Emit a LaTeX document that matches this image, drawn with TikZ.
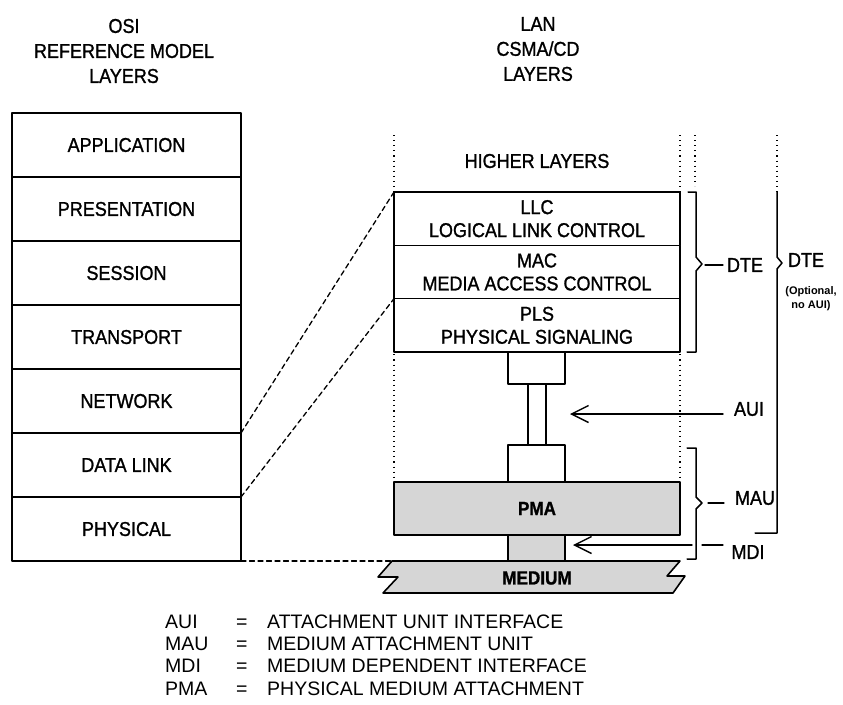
\documentclass[tikz,border=0pt]{standalone}
\usepackage{fontspec}
\setmainfont{Liberation Sans}
\newfontfamily\plotfont[FakeStretch=0.9,FakeBold=1.2]{Liberation Sans}
\usetikzlibrary{arrows.meta,positioning}

\tikzset{
  layer/.style={draw, line width=1.6pt, outer sep=0pt, inner sep=0pt,
    minimum width=229pt, minimum height=64pt,
    font=\plotfont\fontsize{20}{23}\selectfont},
  lanbox/.style={draw, fill=white, line width=1.6pt, outer sep=0pt, inner sep=0pt,
    minimum width=286pt, minimum height=53.33pt, align=center,
    font=\plotfont\fontsize{20}{23}\selectfont},
  head/.style={align=center, font=\plotfont\fontsize{20}{25}\selectfont},
  lbl/.style={font=\plotfont\fontsize{20}{23}\selectfont},
  note/.style={align=center, font=\bfseries\fontsize{11}{14}\selectfont},
  keytext/.style={anchor=base west, inner sep=0pt, font=\fontsize{19.5}{22}\selectfont},
  shade/.style={fill=black!16},
  linkline/.style={line width=1.3pt, dashed, dash pattern=on 5pt off 3.5pt},
  dotline/.style={line width=1.1pt, dash pattern=on 1.1pt off 4pt, line cap=butt},
  ptr/.style={line width=1.4pt, -{Straight Barb[length=17pt,width=17pt,line width=1.4pt]}},
}

\begin{document}
\begin{tikzpicture}[x=1pt, y=-1pt, line cap=round, line join=round]
\useasboundingbox (0,0) rectangle (843,704);

% ---------------------------------------------------------
% Column headings
% ---------------------------------------------------------
\node[head] (osihead) at (124,51) {OSI\\REFERENCE MODEL\\LAYERS};
\node[head] (lanhead) at (538,49) {LAN\\CSMA/CD\\LAYERS};

% ---------------------------------------------------------
% OSI reference model stack
% ---------------------------------------------------------
\node[layer] (app) at (126.5,145) {APPLICATION};
\node[layer, below=0pt of app]  (pres)  {PRESENTATION};
\node[layer, below=0pt of pres] (sess)  {SESSION};
\node[layer, below=0pt of sess] (trans) {TRANSPORT};
\node[layer, below=0pt of trans] (net)  {NETWORK};
\node[layer, below=0pt of net]  (data)  {DATA LINK};
\node[layer, below=0pt of data] (phys)  {PHYSICAL};

% ---------------------------------------------------------
% Dotted boundaries of the LAN column
% ---------------------------------------------------------
\draw[dotline] (394,135) -- (394,482);
\draw[dotline] (680,135) -- (680,482);
\draw[dotline] (695,135) -- (695,186);
\draw[dotline] (777,135) -- (777,192);

\node[lbl] (higher) at (537,161) {HIGHER LAYERS};

% ---------------------------------------------------------
% LAN CSMA/CD layers
% ---------------------------------------------------------
\node[lanbox] (llc) at (537,218.67) {LLC\\LOGICAL LINK CONTROL};
\node[lanbox, below=0pt of llc] (mac) {MAC\\MEDIA ACCESS CONTROL};
\node[lanbox, below=0pt of mac] (pls) {PLS\\PHYSICAL SIGNALING};

% AUI cable and connectors
\draw[line width=1.6pt, fill=white] (508,352) rectangle (565,384);
\draw[line width=1.6pt, fill=white] (528,384) rectangle (546,445);
\draw[line width=1.6pt, fill=white] (508,445) rectangle (565,482);

% PMA and MDI
\node[lanbox, shade, minimum height=53pt, font=\plotfont\bfseries\fontsize{19}{23}\selectfont]
  (pma) at (537,508.5) {PMA};
\draw[line width=1.6pt, shade] (508,535) rectangle (565,561);

% ---------------------------------------------------------
% Medium
% ---------------------------------------------------------
\coordinate (MTL) at (392,561);
\draw[line width=1.6pt, shade]
  (MTL) -- (680,561) -- (667,576) -- (685,576) -- (673,593)
  -- (383,593) -- (398,577) -- (378,577) -- cycle;
\node[font=\plotfont\bfseries\fontsize{19}{23}\selectfont] (medium) at (537,578) {MEDIUM};

% ---------------------------------------------------------
% Dashed mapping lines
% ---------------------------------------------------------
\draw[linkline] (data.north east) -- (llc.north west);
\draw[linkline] (data.south east) -- (pls.north west);
\draw[linkline] (phys.south east) -- (MTL);

% ---------------------------------------------------------
% Braces and labels on the right
% ---------------------------------------------------------
\draw[line width=1.5pt] (688,192) -- (696,192) -- (696,257) -- (702,264)
  -- (696,271) -- (696,352) -- (687,352);
\draw[line width=1.3pt] (705,265) -- (723,265);
\node[lbl] (dte) at (745,265) {DTE};

\draw[line width=1.5pt] (777,192) -- (777,257) -- (782,263) -- (777,269)
  -- (777,533) -- (755,533);
\node[lbl] (dteopt) at (806,260) {DTE};
\node[note] (optional) at (811,299) {(Optional,\\no AUI)};

\coordinate (AUItail) at (723,414);
\coordinate (AUItip) at (570,414);
\draw[ptr] (AUItail) -- (AUItip);
\node[lbl] (aui) at (749,409) {AUI};

\draw[line width=1.5pt] (687,448) -- (696,448) -- (696,497) -- (702,503)
  -- (696,509) -- (696,559) -- (687,559);
\draw[line width=1.3pt] (708,503) -- (724,503);
\node[lbl] (mau) at (755,498) {MAU};

\coordinate (MDItail) at (692,545);
\coordinate (MDItip) at (573,545);
\draw[ptr] (MDItail) -- (MDItip);
\draw[line width=1.3pt] (702,545) -- (723,545);
\node[lbl] (mdi) at (748,552) {MDI};

% ---------------------------------------------------------
% Key
% ---------------------------------------------------------
\node[keytext] (kaui) at (165,628) {AUI};
\node[keytext] (kmau) at (165,650) {MAU};
\node[keytext] (kmdi) at (165,672) {MDI};
\node[keytext] (kpma) at (165,695) {PMA};
\node[keytext] (eaui) at (236,628) {=};
\node[keytext] (emau) at (236,650) {=};
\node[keytext] (emdi) at (236,672) {=};
\node[keytext] (epma) at (236,695) {=};
\node[keytext] (taui) at (267,628) {ATTACHMENT UNIT INTERFACE};
\node[keytext] (tmau) at (267,650) {MEDIUM ATTACHMENT UNIT};
\node[keytext] (tmdi) at (267,672) {MEDIUM DEPENDENT INTERFACE};
\node[keytext] (tpma) at (267,695) {PHYSICAL MEDIUM ATTACHMENT};

\end{tikzpicture}
\end{document}
